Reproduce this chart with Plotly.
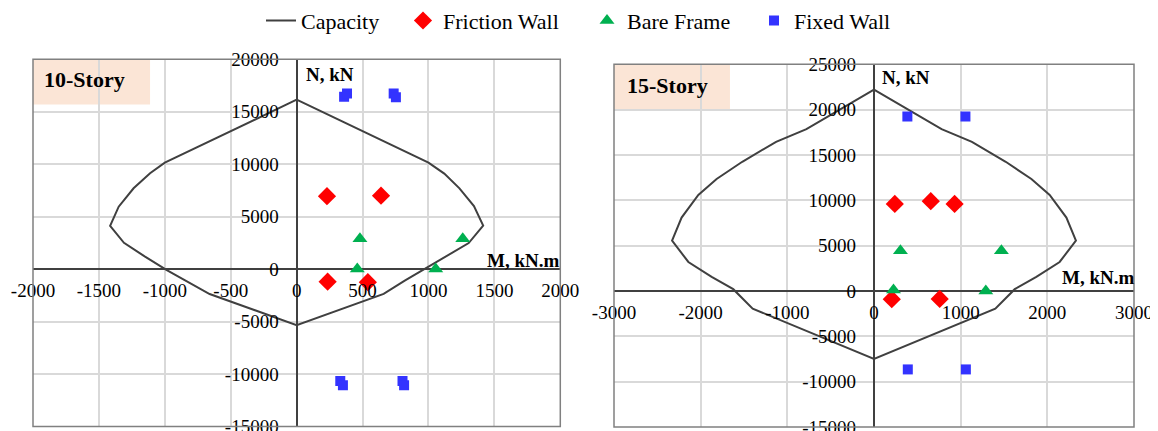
import plotly.graph_objects as go

# page is 1158x431; the browser body has an 8px margin, so the figure is drawn 8px in
PAGE_OFF = 8
W, H = 1150, 423

# ---------------- data: 10-Story ----------------
cap10_M = [0, 1000, 1120, 1235, 1345, 1415, 1305, 1130, 950, 820, 660, 0,
           -660, -830, -985, -1150, -1310, -1415, -1350, -1237, -1112, -1000, 0]
cap10_N = [16150, 10150, 9100, 7700, 6000, 4150, 2480, 1180, -100, -1100, -2360, -5350,
           -2380, -1200, -100, 1180, 2500, 4120, 5950, 7700, 9140, 10150, 16150]
fric10_M = [230, 640, 235, 540]
fric10_N = [6950, 7000, -1200, -1250]
bare10_M = [480, 1260, 460, 1055]
bare10_N = [2900, 2900, 0, 0]
fixed10_M = [360, 382, 736, 753, 331, 351, 803, 815]
fixed10_N = [16430, 16750, 16750, 16370, -10660, -11070, -10660, -11070]

# ---------------- data: 15-Story ----------------
cap15_M = [0, 780, 1130, 1520, 1816, 2027, 2220, 2330, 2142, 1873, 1624, 1400, 0,
           -1400, -1624, -1873, -2142, -2330, -2220, -2027, -1816, -1520, -1130, -780, 0]
cap15_N = [22200, 17850, 16450, 14250, 12350, 10600, 8100, 5550, 3200, 1550, 200, -1950, -7500,
           -1950, 200, 1550, 3200, 5550, 8100, 10600, 12350, 14250, 16450, 17850, 22200]
fric15_M = [240, 655, 930, 205, 758]
fric15_N = [9600, 9900, 9600, -900, -880]
bare15_M = [305, 1470, 225, 1290]
bare15_N = [4450, 4450, 100, 0]
fixed15_M = [385, 1055, 390, 1060]
fixed15_N = [19250, 19250, -8650, -8650]

# ---------------- ticks ----------------
ticks10_x = [-2000, -1500, -1000, -500, 0, 500, 1000, 1500, 2000]
ticks10_y = [-15000, -10000, -5000, 0, 5000, 10000, 15000, 20000]
ticks15_x = [-3000, -2000, -1000, 0, 1000, 2000, 3000]
ticks15_y = [-15000, -10000, -5000, 0, 5000, 10000, 15000, 20000, 25000]

range10_x = [-2000, 2000]
range10_y = [-15000, 20000]
range15_x = [-3000, 3000]
range15_y = [-15000, 25000]

# ---------------- styles ----------------
FONT = "Liberation Serif, Times New Roman, serif"
CAP_COLOR = "#404040"
RED = "#FF0000"
GREEN = "#00B050"
BLUE = "#3333FF"
GRID = "#D9D9D9"
BORDER = "#808080"

# plot areas in page pixels (left, right, top, bottom)
P1 = (33, 560.3, 59.3, 426.4)
P2 = (614, 1134, 64.3, 427)


def fx(xp):
    return (xp - PAGE_OFF) / W


def fy(yp):
    return 1 - (yp - PAGE_OFF) / H


def xdom(p):
    return [fx(p[0]), fx(p[1])]


def ydom(p):
    return [fy(p[3]), fy(p[2])]


def zero_pos(rng, dom):
    return dom[0] + (0 - rng[0]) / (rng[1] - rng[0]) * (dom[1] - dom[0])


fig = go.Figure()


def add_panel(xa, ya, capM, capN, fM, fN, bM, bN, xM, xN, show):
    fig.add_trace(go.Scatter(x=capM, y=capN, mode="lines", name="Capacity",
                             line=dict(color=CAP_COLOR, width=2),
                             xaxis=xa, yaxis=ya, showlegend=show, legend="legend"))
    fig.add_trace(go.Scatter(x=fM, y=fN, mode="markers", name="Friction Wall",
                             marker=dict(symbol="diamond", color=RED, size=14),
                             xaxis=xa, yaxis=ya, showlegend=show, legend="legend2"))
    fig.add_trace(go.Scatter(x=bM, y=bN, mode="markers", name="Bare Frame",
                             marker=dict(symbol="triangle-up", color=GREEN, size=13),
                             xaxis=xa, yaxis=ya, showlegend=show, legend="legend3"))
    fig.add_trace(go.Scatter(x=xM, y=xN, mode="markers", name="Fixed Wall",
                             marker=dict(symbol="square", color=BLUE, size=10),
                             xaxis=xa, yaxis=ya, showlegend=show, legend="legend4"))


add_panel("x", "y", cap10_M, cap10_N, fric10_M, fric10_N, bare10_M, bare10_N,
          fixed10_M, fixed10_N, True)
add_panel("x2", "y2", cap15_M, cap15_N, fric15_M, fric15_N, bare15_M, bare15_N,
          fixed15_M, fixed15_N, False)

tickfont = dict(family=FONT, size=19, color="black")


def axis_x(rng, ticks, dom, ydm, yr):
    return dict(domain=dom, range=rng, tickmode="array", tickvals=ticks,
                ticktext=[str(t) for t in ticks], tickfont=tickfont,
                showgrid=True, gridcolor=GRID, gridwidth=1.5,
                zeroline=True, zerolinecolor=CAP_COLOR, zerolinewidth=2,
                showline=False, ticks="", anchor="free", automargin=False,
                ticklabeloverflow="allow",
                position=zero_pos(yr, ydm), ticklabelstandoff=8, fixedrange=True)


def axis_y(rng, ticks, dom, xdm, xr):
    return dict(domain=dom, range=rng, tickmode="array", tickvals=ticks,
                ticktext=[str(t) for t in ticks], tickfont=tickfont,
                showgrid=True, gridcolor=GRID, gridwidth=1.5,
                zeroline=True, zerolinecolor=CAP_COLOR, zerolinewidth=2,
                showline=False, ticks="", anchor="free", automargin=False,
                ticklabeloverflow="allow",
                position=zero_pos(xr, xdm), ticklabelstandoff=18, fixedrange=True)


x1d, y1d = xdom(P1), ydom(P1)
x2d, y2d = xdom(P2), ydom(P2)

legfont = dict(family=FONT, size=22, color="black")


def leg(cx):
    return dict(orientation="h", x=fx(cx - 20), xanchor="left", y=fy(20.7),
                yanchor="middle", font=legfont, bgcolor="rgba(0,0,0,0)",
                borderwidth=0, itemwidth=30)


shapes = []
annotations = []
for (xa, ya, box_x1, box_y0) in [("x", "y", 0.222, 0.877),
                                 ("x2", "y2", 0.223, 0.8715)]:
    shapes.append(dict(type="rect", xref=xa + " domain", yref=ya + " domain",
                       x0=0, x1=box_x1, y0=box_y0, y1=1,
                       fillcolor="#FBE5D6", line=dict(width=0), layer="below"))
    shapes.append(dict(type="rect", xref=xa + " domain", yref=ya + " domain",
                       x0=0, x1=1, y0=0, y1=1,
                       line=dict(color=BORDER, width=1.5), layer="above"))

bold = dict(family=FONT, size=19, color="black")
big = dict(family=FONT, size=22, color="black")
for text, (xp, yp), f in [("<b>10-Story</b>", (85, 79.5), big),
                          ("<b>15-Story</b>", (667, 85), big),
                          ("<b>N, kN</b>", (329.5, 74), bold),
                          ("<b>M, kN.m</b>", (522.5, 260), bold),
                          ("<b>N, kN</b>", (905.5, 77.7), bold),
                          ("<b>M, kN.m</b>", (1097.7, 277.3), bold)]:
    annotations.append(dict(text=text, x=fx(xp), y=fy(yp), xref="paper", yref="paper",
                            xanchor="center", yanchor="middle", showarrow=False, font=f))

fig.update_layout(
    width=W, height=H, margin=dict(l=0, r=0, t=0, b=0, autoexpand=False),
    paper_bgcolor="white", plot_bgcolor="white",
    font=dict(family=FONT, color="black"),
    xaxis=axis_x(range10_x, ticks10_x, x1d, y1d, range10_y),
    yaxis=axis_y(range10_y, ticks10_y, y1d, x1d, range10_x),
    xaxis2=axis_x(range15_x, ticks15_x, x2d, y2d, range15_y),
    yaxis2=axis_y(range15_y, ticks15_y, y2d, x2d, range15_x),
    legend=leg(281), legend2=leg(423), legend3=leg(607), legend4=leg(774),
    shapes=shapes, annotations=annotations,
)

fig.write_html("out.html")
